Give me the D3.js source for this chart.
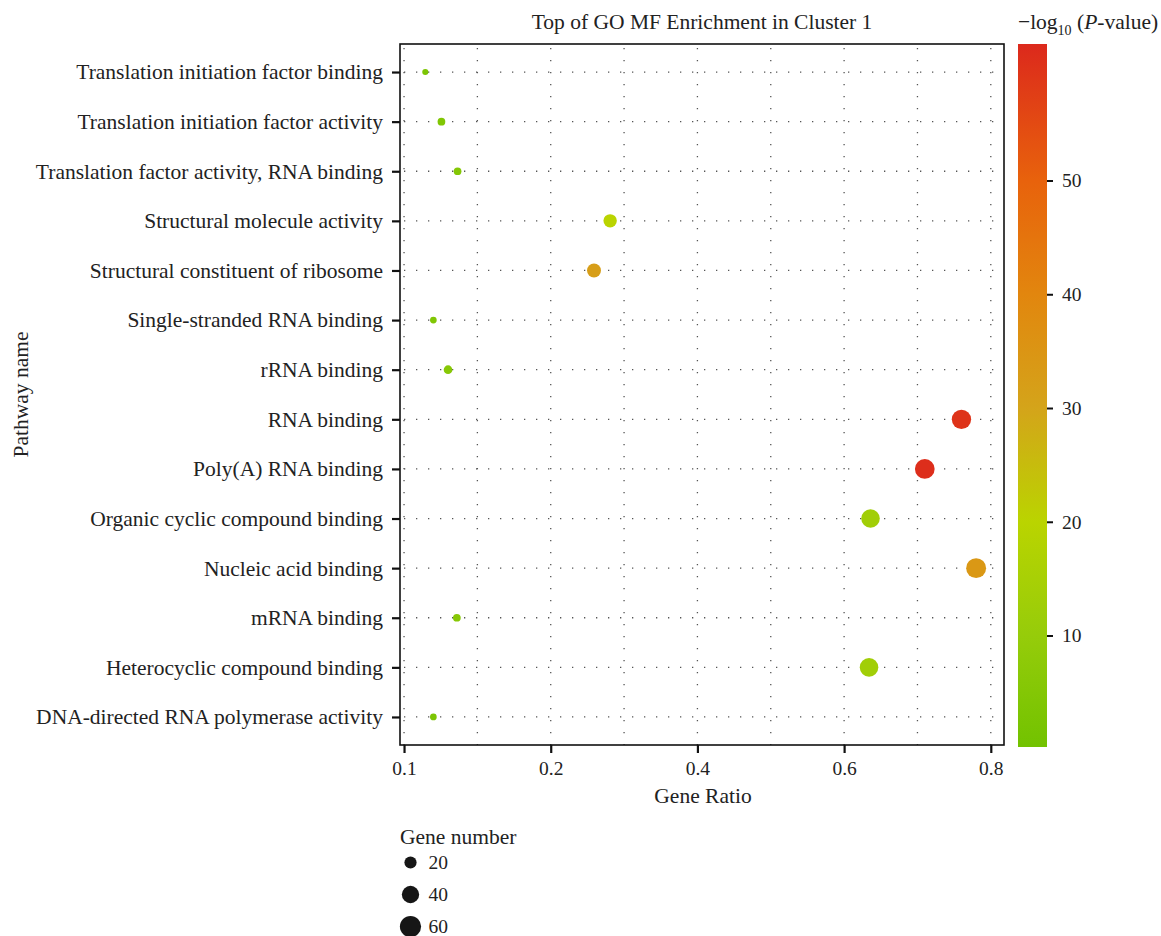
<!DOCTYPE html>
<html>
<head>
<meta charset="utf-8">
<script src="https://cdn.jsdelivr.net/npm/d3@7"></script>
<style>
  body { margin: 0; background: #fff; }
  svg text { font-family: "Liberation Serif", "DejaVu Serif", serif; fill: #222; }
</style>
</head>
<body>
<svg id="chart" width="1161" height="936"></svg>
<script>
// Pathways, top row first
const pathways = [
  "Translation initiation factor binding",
  "Translation initiation factor activity",
  "Translation factor activity, RNA binding",
  "Structural molecule activity",
  "Structural constituent of ribosome",
  "Single-stranded RNA binding",
  "rRNA binding",
  "RNA binding",
  "Poly(A) RNA binding",
  "Organic cyclic compound binding",
  "Nucleic acid binding",
  "mRNA binding",
  "Heterocyclic compound binding",
  "DNA-directed RNA polymerase activity"
];
const geneRatio = [0.029, 0.051, 0.073, 0.281, 0.259, 0.040, 0.060, 0.760, 0.710, 0.636, 0.780, 0.072, 0.634, 0.040];
const geneNumber = [5, 8, 8, 24, 26, 6, 10, 50, 52, 46, 53, 8, 46, 6];
const negLogP = [3, 4, 5, 20, 32, 4, 6, 60, 61, 13, 34, 6, 13, 3];

// Axis ticks and their printed labels
const xTickValues = [0, 0.2, 0.4, 0.6, 0.8];
const xTickLabels = ["0.1", "0.2", "0.4", "0.6", "0.8"];
const xGridValues = [0, 0.1, 0.2, 0.3, 0.4, 0.5, 0.6, 0.7, 0.8];
const colorTicks = [10, 20, 30, 40, 50];
const sizeLegend = [20, 40, 60];

// Colour ramp for -log10(P)
const colorStops = [0.2, 10, 20, 30, 40, 50, 62];
const colorRange = ["#72c200", "#96cc0a", "#bad400", "#d4a41a", "#e2860e", "#e8620c", "#dc291c"];

const svg = d3.select("#chart");
const plot = { left: 400, right: 1004, top: 44, bottom: 745 };
const labelSize = 21.5, numberSize = 19.5;

const x = d3.scaleLinear().domain([-0.0055, 0.818]).range([plot.left, plot.right]);
const y = d3.scalePoint().domain(pathways).range([plot.top, plot.bottom]).padding(0.565);
const r = d3.scaleSqrt().domain([0, 60]).range([0, 10.6]);
const color = d3.scaleLinear().domain(colorStops).range(colorRange).interpolate(d3.interpolateRgb);

// Dotted grid
const grid = svg.append("g").attr("stroke", "#555").attr("stroke-width", 1.3)
  .attr("stroke-dasharray", "1.3 10.7");
grid.selectAll("line.v").data(xGridValues).join("line").attr("class", "v")
  .attr("x1", d => x(d)).attr("x2", d => x(d))
  .attr("y1", plot.top + 4).attr("y2", plot.bottom);
grid.selectAll("line.h").data(pathways).join("line").attr("class", "h")
  .attr("x1", plot.left + 4).attr("x2", plot.right)
  .attr("y1", d => y(d)).attr("y2", d => y(d));

// Points
const rows = pathways.map((p, i) => ({ p, ratio: geneRatio[i], n: geneNumber[i], v: negLogP[i] }));
svg.append("g").selectAll("circle").data(rows).join("circle")
  .attr("cx", d => x(d.ratio)).attr("cy", d => y(d.p))
  .attr("r", d => r(d.n)).attr("fill", d => color(d.v));

// Panel frame
svg.append("rect").attr("x", plot.left).attr("y", plot.top)
  .attr("width", plot.right - plot.left).attr("height", plot.bottom - plot.top)
  .attr("fill", "none").attr("stroke", "#111").attr("stroke-width", 1.6);

// X axis
const xAxis = svg.append("g").attr("transform", `translate(0,${plot.bottom})`)
  .call(d3.axisBottom(x).tickValues(xTickValues).tickSize(8).tickPadding(8)
    .tickFormat((d, i) => xTickLabels[i]));
xAxis.select(".domain").remove();
xAxis.selectAll(".tick line").attr("stroke", "#111").attr("stroke-width", 2.2);
xAxis.selectAll(".tick text").attr("font-size", numberSize).attr("fill", "#222")
  .attr("font-family", "Liberation Serif, serif");

// Y axis
const yAxis = svg.append("g").attr("transform", `translate(${plot.left},0)`)
  .call(d3.axisLeft(y).tickSize(8).tickPadding(9));
yAxis.select(".domain").remove();
yAxis.selectAll(".tick line").attr("stroke", "#111").attr("stroke-width", 2.2);
yAxis.selectAll(".tick text").attr("font-size", labelSize).attr("fill", "#222")
  .attr("font-family", "Liberation Serif, serif");

// Titles
svg.append("text").attr("x", 702).attr("y", 29).attr("text-anchor", "middle")
  .attr("font-size", labelSize).text("Top of GO MF Enrichment in Cluster 1");
svg.append("text").attr("x", 703).attr("y", 803).attr("text-anchor", "middle")
  .attr("font-size", labelSize).text("Gene Ratio");
svg.append("text").attr("transform", `translate(28,${(plot.top + plot.bottom) / 2}) rotate(-90)`)
  .attr("text-anchor", "middle").attr("font-size", labelSize).text("Pathway name");

// Colour bar
const bar = { x: 1018, w: 29, top: 44, bottom: 747 };
const cy = d3.scaleLinear().domain([colorStops[0], colorStops[colorStops.length - 1]])
  .range([bar.bottom, bar.top]);
const defs = svg.append("defs");
const grad = defs.append("linearGradient").attr("id", "pgrad")
  .attr("x1", 0).attr("y1", 1).attr("x2", 0).attr("y2", 0);
grad.selectAll("stop").data(colorStops).join("stop")
  .attr("offset", d => (d - colorStops[0]) / (colorStops[colorStops.length - 1] - colorStops[0]))
  .attr("stop-color", d => color(d));
svg.append("rect").attr("x", bar.x).attr("y", bar.top).attr("width", bar.w)
  .attr("height", bar.bottom - bar.top).attr("fill", "url(#pgrad)");
const cAxis = svg.append("g").attr("transform", `translate(${bar.x + bar.w},0)`)
  .call(d3.axisRight(cy).tickValues(colorTicks).tickSize(6).tickPadding(9));
cAxis.select(".domain").remove();
cAxis.selectAll(".tick line").attr("stroke", "#111").attr("stroke-width", 2);
cAxis.selectAll(".tick text").attr("font-size", numberSize).attr("fill", "#222")
  .attr("font-family", "Liberation Serif, serif");

const cTitle = svg.append("text").attr("x", 1018).attr("y", 29).attr("font-size", labelSize);
cTitle.append("tspan").text("\u2212log");
cTitle.append("tspan").attr("font-size", 14).attr("dy", 6).text("10");
cTitle.append("tspan").attr("dy", -6).text(" (");
cTitle.append("tspan").attr("font-style", "italic").text("P");
cTitle.append("tspan").text("-value)");

// Size legend
svg.append("text").attr("x", 400).attr("y", 844).attr("font-size", labelSize).text("Gene number");
const sl = svg.append("g").selectAll("g").data(sizeLegend).join("g")
  .attr("transform", (d, i) => `translate(410.5,${862.5 + i * 32})`);
sl.append("circle").attr("r", d => r(d)).attr("fill", "#161616");
sl.append("text").attr("x", 18).attr("dy", "0.35em").attr("font-size", numberSize).text(d => d);
</script>
</body>
</html>
